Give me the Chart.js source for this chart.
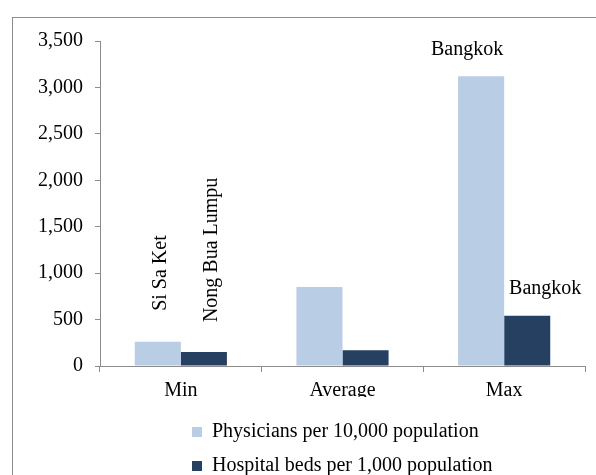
<!DOCTYPE html>
<html>
<head>
<meta charset="utf-8">
<script src="https://cdn.jsdelivr.net/npm/chart.js@4/dist/chart.umd.min.js"></script>
<style>
  html, body { margin: 0; padding: 0; background: #fff; overflow: hidden; }
  #wrap { position: relative; width: 596px; height: 475px; }
  #frame { position: absolute; left: 12px; top: 17px; width: 620px; height: 500px; border: 1px solid #8c8c8c; }
  canvas { position: absolute; left: 0; top: 0; }
</style>
</head>
<body>
<div id="wrap">
  <div id="frame"></div>
  <canvas id="chart" width="596" height="475"></canvas>
</div>
<script>
// chart data
const categories = ["Min", "Average", "Max"];
const physicians = [260, 850, 3120];
const hospitalBeds = [150, 170, 540];
const physiciansNotes = ["Si Sa Ket", "", "Bangkok"];
const bedsNotes = ["Nong Bua Lumpu", "", "Bangkok"];
const yTicks = [0, 500, 1000, 1500, 2000, 2500, 3000, 3500];

const FONT = "'Liberation Serif', 'Times New Roman', serif";
const FONT_SIZE = 20;
const AXIS_COLOR = "#8c8c8c";

// text placed above bars, next to the library's bar elements
const barNotes = {
    id: "barNotes",
    afterDatasetsDraw(chart, args, opts) {
        const ctx = chart.ctx;
        ctx.save();
        ctx.fillStyle = "#000";
        ctx.font = FONT_SIZE + "px " + FONT;
        opts.sets.forEach((set, di) => {
            const meta = chart.getDatasetMeta(di);
            set.notes.forEach((text, i) => {
                if (!text) return;
                const bar = meta.data[i];
                const style = set.style[i];
                ctx.save();
                ctx.translate(bar.x + style.dx, bar.y - style.gap);
                if (style.rotate) {
                    ctx.rotate(-Math.PI / 2);
                    ctx.textAlign = "left";
                } else {
                    ctx.textAlign = "center";
                }
                ctx.textBaseline = "middle";
                ctx.fillText(text, 0, 0);
                ctx.restore();
            });
        });
        ctx.restore();
    }
};

// move the legend block where the reference has it
const legendPlace = {
    id: "legendPlace",
    afterLayout(chart, args, opts) {
        const lg = chart.legend;
        if (!lg) return;
        const pad = lg.options.labels.padding;
        const dx = opts.left - (lg.left + pad);
        const dy = opts.top - lg.top;
        lg.left += dx; lg.right += dx;
        lg.top += dy; lg.bottom += dy;
    }
};

new Chart(document.getElementById("chart"), {
    type: "bar",
    data: {
        labels: categories,
        datasets: [
            {
                label: "Physicians per 10,000 population",
                data: physicians,
                backgroundColor: "#b9cde5",
                categoryPercentage: 0.57,
                barPercentage: 1.0,
            },
            {
                label: "Hospital beds per 1,000 population",
                data: hospitalBeds,
                backgroundColor: "#254061",
                categoryPercentage: 0.57,
                barPercentage: 1.0,
            },
        ],
    },
    options: {
        responsive: false,
        animation: false,
        layout: { padding: { top: 41, right: 11, left: 2, bottom: 0 } },
        scales: {
            x: {
                grid: { display: true, drawOnChartArea: false, drawTicks: true, tickLength: 6, color: AXIS_COLOR, offset: true },
                border: { display: true, color: AXIS_COLOR },
                ticks: { color: "#000", font: { family: FONT, size: FONT_SIZE }, padding: 7 },
                afterFit(axis) { axis.height = 31; },
            },
            y: {
                min: 0,
                max: 3500,
                afterBuildTicks(axis) { axis.ticks = yTicks.map(v => ({ value: v })); },
                grid: { display: true, drawOnChartArea: false, drawTicks: true, tickLength: 5, color: AXIS_COLOR },
                border: { display: true, color: AXIS_COLOR },
                ticks: {
                    color: "#000",
                    font: { family: FONT, size: FONT_SIZE },
                    padding: 12,
                    callback: v => v.toLocaleString("en-US"),
                },
                afterFit(axis) { axis.width = 98; },
            },
        },
        plugins: {
            legend: {
                position: "bottom",
                align: "start",
                fullSize: false,
                labels: {
                    color: "#000",
                    font: { family: FONT, size: FONT_SIZE },
                    boxWidth: 10,
                    boxHeight: 10,
                    padding: 14,
                },
            },
            tooltip: { enabled: false },
            legendPlace: { left: 192, top: 408 },
            barNotes: {
                sets: [
                    {
                        notes: physiciansNotes,
                        style: [
                            { dx: 3, gap: 31, rotate: true },
                            { dx: 0, gap: 30, rotate: false },
                            { dx: -14, gap: 27, rotate: false },
                        ],
                    },
                    {
                        notes: bedsNotes,
                        style: [
                            { dx: 8, gap: 30, rotate: true },
                            { dx: 0, gap: 30, rotate: false },
                            { dx: 18, gap: 27, rotate: false },
                        ],
                    },
                ],
            },
        },
    },
    plugins: [barNotes, legendPlace],
});
</script>
</body>
</html>
